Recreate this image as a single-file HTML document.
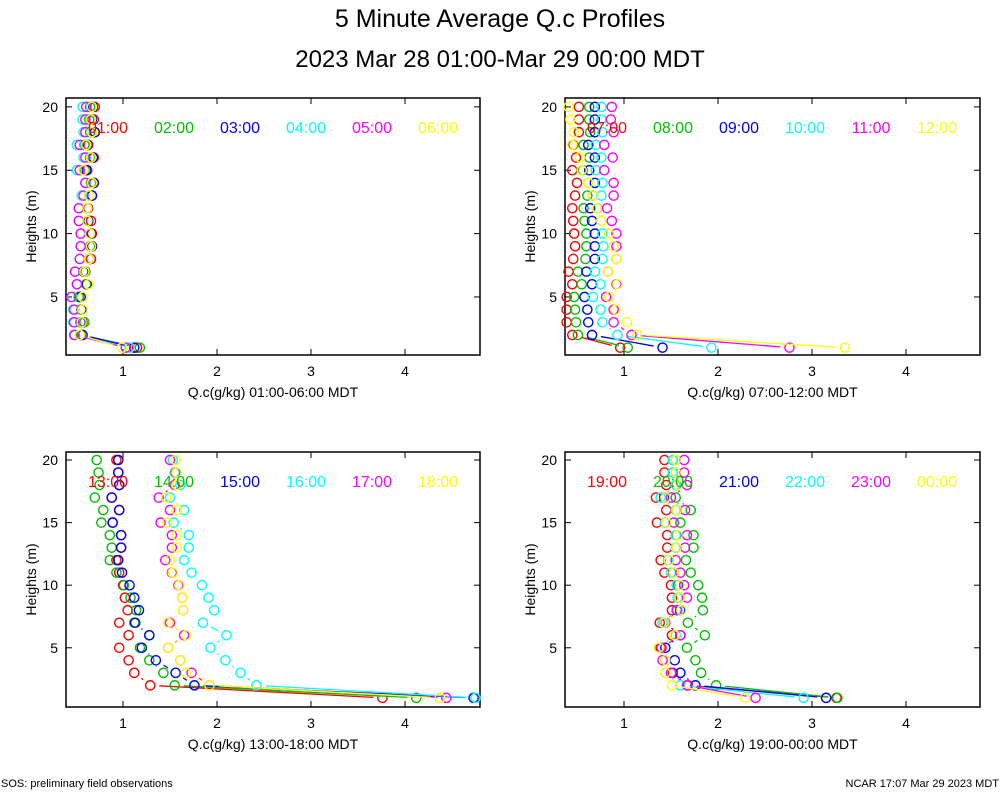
<!DOCTYPE html>
<html><head><meta charset="utf-8">
<style>
body{margin:0;background:#fff;}
svg{display:block;font-family:"Liberation Sans",sans-serif;}
</style></head>
<body>
<svg id="chart" width="1000" height="800" viewBox="0 0 1000 800" xmlns="http://www.w3.org/2000/svg">
<rect width="1000" height="800" fill="#fff"/>
<text x="500" y="27" font-size="25" text-anchor="middle">5 Minute Average Q.c Profiles</text>
<text x="500" y="67" font-size="24" text-anchor="middle">2023 Mar 28 01:00-Mar 29 00:00 MDT</text>
<text x="1" y="787" font-size="11">SOS: preliminary field observations</text>
<text x="999" y="787" font-size="11" text-anchor="end">NCAR 17:07 Mar 29 2023 MDT</text>
</svg>
<script>
const heights = [1,2,3,4,5,6,7,8,9,10,11,12,13,14,15,16,17,18,19,20];
const xTicks = [1,2,3,4];
const yTicks = [5,10,15,20];
const colors = ["#ff0000","#00c000","#0000ff","#00ffff","#ff00ff","#ffff00"];

const p1Labels = ["01:00","02:00","03:00","04:00","05:00","06:00"];
const p1Red = [1.15,.55,.57,.56,.53,.61,.60,.66,.67,.67,.66,.63,.67,.69,.62,.69,.63,.70,.69,.70];
const p1Green = [1.18,.55,.59,.56,.53,.61,.60,.64,.65,.65,.63,.62,.64,.66,.59,.65,.59,.65,.64,.65];
const p1Blue = [1.12,.57,.55,.56,.55,.62,.58,.64,.67,.66,.63,.62,.67,.69,.61,.68,.62,.70,.67,.68];
const p1Cyan = [1.07,.49,.47,.47,.46,.51,.49,.54,.55,.55,.53,.53,.56,.60,.51,.58,.51,.58,.57,.57];
const p1Magenta = [1.03,.48,.48,.48,.45,.51,.49,.54,.55,.55,.53,.53,.58,.60,.54,.60,.54,.60,.60,.61];
const p1Yellow = [.99,.54,.56,.57,.57,.63,.59,.64,.66,.65,.62,.62,.64,.67,.58,.66,.61,.67,.66,.67];

const p2Labels = ["07:00","08:00","09:00","10:00","11:00","12:00"];
const p2Red = [.96,.45,.39,.39,.39,.45,.41,.46,.48,.47,.46,.45,.48,.50,.45,.49,.46,.52,.52,.52];
const p2Green = [1.04,.51,.49,.48,.47,.55,.51,.59,.60,.60,.58,.57,.61,.62,.56,.63,.57,.64,.63,.63];
const p2Blue = [1.41,.66,.62,.61,.58,.66,.60,.69,.69,.69,.66,.64,.67,.69,.63,.69,.62,.69,.69,.69];
const p2Cyan = [1.93,.93,.77,.75,.67,.75,.69,.77,.78,.77,.76,.72,.76,.77,.70,.76,.70,.77,.76,.76];
const p2Magenta = [2.76,1.08,.89,.89,.81,.92,.83,.92,.92,.92,.87,.82,.89,.89,.79,.88,.79,.89,.86,.87];
const p2Yellow = [3.35,1.14,1.03,.91,.84,.93,.83,.92,.89,.84,.76,.71,.67,.62,.55,.53,.45,.47,.43,.41];

const p3Labels = ["13:00","14:00","15:00","16:00","17:00","18:00"];
const p3Red = [3.76,1.29,1.12,1.06,.96,1.06,.96,1.05,1.02,1.0,.96,.93,.98,.98,.89,.96,.88,.96,.95,.93];
const p3Green = [4.12,1.55,1.43,1.28,1.18,1.28,1.12,1.14,1.08,1.01,.93,.86,.88,.86,.77,.79,.70,.75,.74,.72];
const p3Blue = [4.73,1.76,1.56,1.35,1.20,1.28,1.13,1.17,1.12,1.07,.99,.95,.98,.98,.89,.96,.88,.96,.95,.95];
const p3Cyan = [4.75,2.42,2.25,2.09,1.93,2.10,1.85,1.97,1.91,1.84,1.73,1.65,1.70,1.70,1.54,1.65,1.50,1.61,1.55,1.53];
const p3Magenta = [4.44,1.92,1.73,1.61,1.48,1.65,1.50,1.64,1.63,1.59,1.52,1.45,1.52,1.52,1.40,1.50,1.38,1.55,1.56,1.50];
const p3Yellow = [4.37,1.92,1.67,1.61,1.48,1.67,1.48,1.64,1.63,1.60,1.53,1.50,1.57,1.57,1.47,1.57,1.46,1.57,1.57,1.56];

const p4Labels = ["19:00","20:00","21:00","22:00","23:00","00:00"];
const p4Red = [3.26,1.68,1.52,1.44,1.39,1.51,1.38,1.51,1.51,1.50,1.43,1.39,1.46,1.46,1.35,1.45,1.34,1.45,1.43,1.43];
const p4Green = [3.27,1.98,1.82,1.76,1.67,1.86,1.68,1.84,1.83,1.79,1.71,1.66,1.74,1.74,1.60,1.71,1.55,1.55,1.52,1.52];
const p4Blue = [3.15,1.76,1.60,1.54,1.44,1.60,1.43,1.60,1.59,1.58,1.53,1.47,1.56,1.56,1.44,1.56,1.43,1.56,1.55,1.55];
const p4Cyan = [2.91,1.60,1.44,1.44,1.37,1.55,1.41,1.57,1.57,1.56,1.50,1.47,1.55,1.55,1.44,1.55,1.39,1.55,1.52,1.52];
const p4Magenta = [2.40,1.67,1.50,1.41,1.40,1.60,1.44,1.56,1.67,1.64,1.60,1.55,1.65,1.67,1.53,1.65,1.50,1.67,1.64,1.64];
const p4Yellow = [2.29,1.51,1.44,1.44,1.37,1.54,1.43,1.61,1.59,1.59,1.53,1.48,1.56,1.57,1.45,1.56,1.44,1.57,1.55,1.55];

const svg = document.getElementById('chart');
const NS = "http://www.w3.org/2000/svg";
function mk(tag, attrs, parent){
  const e = document.createElementNS(NS, tag);
  for (const k in attrs) e.setAttribute(k, attrs[k]);
  (parent||svg).appendChild(e);
  return e;
}

const panels = [
  {id:"panel-01-06", x0:66, x1:480, y0:98, y1:355, xAt1:123, yMin:0.42, yMax:20.7, range:"01:00-06:00", labels:p1Labels, series:[p1Red,p1Green,p1Blue,p1Cyan,p1Magenta,p1Yellow]},
  {id:"panel-07-12", x0:565, x1:980, y0:98, y1:355, xAt1:624, yMin:0.42, yMax:20.7, range:"07:00-12:00", labels:p2Labels, series:[p2Red,p2Green,p2Blue,p2Cyan,p2Magenta,p2Yellow]},
  {id:"panel-13-18", x0:66, x1:480, y0:452, y1:707, xAt1:123, yMin:0.27, yMax:20.64, range:"13:00-18:00", labels:p3Labels, series:[p3Red,p3Green,p3Blue,p3Cyan,p3Magenta,p3Yellow]},
  {id:"panel-19-00", x0:565, x1:980, y0:452, y1:707, xAt1:624, yMin:0.27, yMax:20.64, range:"19:00-00:00", labels:p4Labels, series:[p4Red,p4Green,p4Blue,p4Cyan,p4Magenta,p4Yellow]}
];
const PXU = 94;

panels.forEach(p => {
  const g = mk('g', {});
  
  
  const xs = v => p.xAt1 + (v - 1) * PXU;
  const ys = v => p.y1 - (v - p.yMin) * (p.y1 - p.y0) / (p.yMax - p.yMin);

  const frame = mk('rect', {x:p.x0, y:p.y0, width:p.x1-p.x0, height:p.y1-p.y0, fill:'none', stroke:'#000', 'stroke-width':1.5}, g);
  
  

  xTicks.forEach(t => {
    const x = xs(t);
    mk('line', {x1:x, x2:x, y1:p.y1, y2:p.y1-6, stroke:'#000'}, g);
    mk('line', {x1:x, x2:x, y1:p.y0, y2:p.y0+6, stroke:'#000'}, g);
    const tl = mk('text', {x:x, y:p.y1+21, 'font-size':14, 'text-anchor':'middle'}, g);
    
    
    tl.textContent = t;
  });
  yTicks.forEach(t => {
    const y = ys(t);
    mk('line', {x1:p.x0, x2:p.x0+6, y1:y, y2:y, stroke:'#000'}, g);
    mk('line', {x1:p.x1, x2:p.x1-6, y1:y, y2:y, stroke:'#000'}, g);
    const tl = mk('text', {x:p.x0-8, y:y+5, 'font-size':14, 'text-anchor':'end'}, g);
    
    
    tl.textContent = t;
  });

  const yl = mk('text', {x:0, y:0, 'font-size':14, 'text-anchor':'middle', transform:`translate(${p.x0-30},${(p.y0+p.y1)/2}) rotate(-90)`}, g);
  
  
  yl.textContent = 'Heights (m)';
  const xl = mk('text', {x:(p.x0+p.x1)/2, y:p.y1+42, 'font-size':14, 'text-anchor':'middle'}, g);
  
  
  xl.textContent = 'Q.c(g/kg) ' + p.range + ' MDT';

  const r = 4.6;
  p.series.forEach((vals, si) => {
    const sg = mk('g', {}, g);
    
    
    const pts = vals.map((v, i) => [xs(v), ys(heights[i])]);
    for (let i = 0; i < pts.length - 1; i++) {
      const [ax, ay] = pts[i], [bx, by] = pts[i+1];
      const dx = bx-ax, dy = by-ay, d = Math.hypot(dx, dy);
      const trim = 9;
      if (d > 2*trim) {
        const ux = dx/d, uy = dy/d;
        mk('line', {x1:ax+ux*trim, y1:ay+uy*trim, x2:bx-ux*trim, y2:by-uy*trim, stroke:colors[si], 'stroke-width':1.3}, sg);
      }
    }
    pts.forEach(([x, y]) => {
      const c = mk('circle', {cx:x, cy:y, r:r, fill:'none', stroke:colors[si], 'stroke-width':1.4}, sg);
      
      
    });
  });

  p.labels.forEach((lab, i) => {
    const t = mk('text', {x:(p.x0 + 42) + i*66, y:p.y0+35, 'font-size':16, 'text-anchor':'middle', fill:colors[i]}, g);
    
    
    t.textContent = lab;
  });
});
</script>
</body></html>
